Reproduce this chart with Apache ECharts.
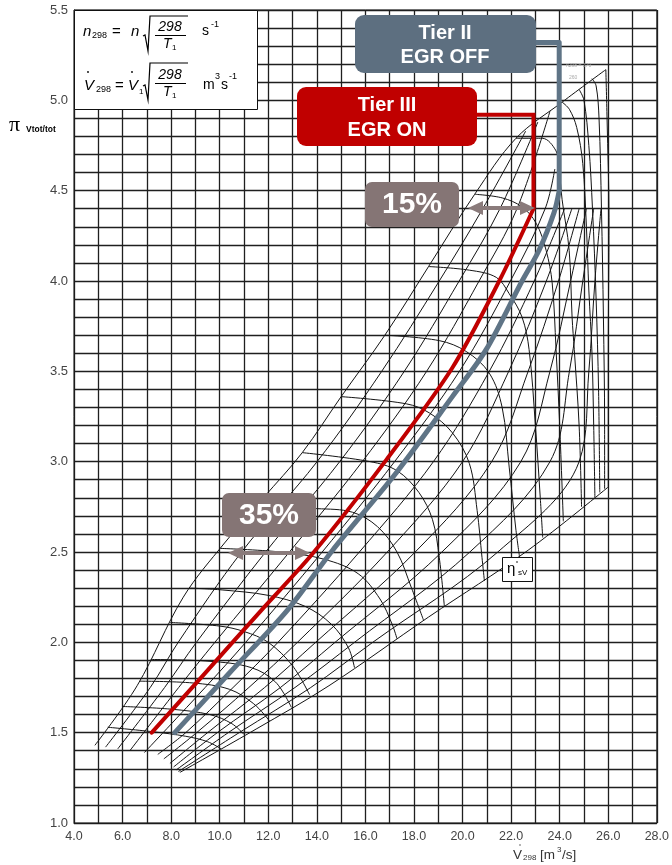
<!DOCTYPE html>
<html>
<head>
<meta charset="utf-8">
<script src="https://cdn.jsdelivr.net/npm/echarts@6/dist/echarts.min.js"></script>
<style>
  html, body { margin: 0; padding: 0; background: #fff; }
  #chart { width: 672px; height: 865px; }
</style>
</head>
<body>
<div id="chart"></div>
<script>
// Axis ticks that carry a printed label
const xLabelValues = [4, 6, 8, 10, 12, 14, 16, 18, 20, 22, 24, 26, 28];
const yLabelValues = [1.0, 1.5, 2.0, 2.5, 3.0, 3.5, 4.0, 4.5, 5.0, 5.5];

// Operating lines  [V298 m3/s, pressure ratio]
const tier3EgrOn = [[7.2,1.5],[9.4,1.83],[11.73,2.18],[13.82,2.49],[16.86,3.01],[19.58,3.52],[21.51,4.0],[22.92,4.4]];
const tier3Leader = [[22.92,4.4],[22.92,4.92],[20.56,4.92]];
const tier2EgrOff = [[8.15,1.5],[10.4,1.83],[12.8,2.18],[14.65,2.51],[17.28,2.94],[19.58,3.36],[20.97,3.62],[22.45,4.0],[23.15,4.17],[23.77,4.38],[23.98,4.5]];
const tier2Leader = [[23.98,4.5],[23.98,5.32],[22.99,5.32]];

// Compressor map: surge line and lower boundary
const surgeLine = [[4.86,1.43],[6.6,1.76],[8.5,2.25],[10.2,2.55],[11.8,2.8],[13.4,3.05],[15.0,3.36],[16.8,3.7],[18.6,4.08],[20.5,4.48],[22.2,4.79],[24.1,4.99],[25.9,5.17]];
const lowerBoundary = [[8.36,1.28],[11.5,1.52],[14.5,1.76],[18.6,2.14],[22.7,2.51],[26.0,2.86]];

// Fan of diagonal lines across the map
const diag1 = [[5.3,1.42],[7.14,1.75],[8.29,2.0],[10.9,2.5],[14.01,3.0],[16.67,3.5],[19.04,4.0],[20.83,4.4],[22.6,4.83]];
const diag2 = [[5.8,1.41],[7.73,1.75],[9.04,2.0],[11.89,2.5],[14.94,3.0],[17.6,3.5],[19.86,4.0],[21.54,4.4],[23.1,4.88]];
const diag3 = [[6.3,1.4],[8.31,1.75],[9.8,2.0],[12.87,2.5],[15.87,3.0],[18.52,3.5],[20.68,4.0],[22.24,4.4],[23.6,4.94]];
const diag4 = [[6.9,1.39],[9.4,1.75],[11.07,2.0],[14.22,2.5],[17.2,3.0],[19.87,3.5],[21.97,4.0],[23.4,4.4],[23.8,4.62]];
const diag5 = [[7.45,1.38],[8.6,1.5],[10.55,1.75],[12.4,2.0],[15.75,2.5],[18.8,3.0],[21.1,3.5],[22.95,4.0],[24.2,4.4]];
const diag6 = [[7.7,1.355],[9.05,1.5],[11.2,1.75],[13.2,2.0],[16.9,2.5],[20.0,3.0],[21.9,3.5],[23.45,4.0],[24.5,4.4]];
const diag7 = [[7.95,1.33],[9.5,1.5],[11.85,1.75],[13.95,2.0],[18.05,2.5],[21.2,3.0],[22.7,3.5],[23.95,4.0],[24.8,4.4]];
const diag8 = [[8.1,1.31],[9.9,1.5],[12.5,1.75],[14.75,2.0],[19.15,2.5],[22.4,3.0],[23.6,3.5],[24.45,4.0],[25.1,4.4]];
const diag9 = [[8.22,1.295],[10.35,1.5],[13.1,1.75],[15.55,2.0],[20.3,2.5],[23.6,3.0],[24.4,3.5],[24.95,4.0],[25.4,4.4]];
const diag10 = [[8.3,1.285],[10.8,1.5],[13.75,1.75],[16.3,2.0],[21.45,2.5],[24.8,3.0],[25.2,3.5],[25.45,4.0],[25.7,4.4]];

// Speed lines n298, from surge to choke
const speed1 = [[5.39,1.53],[7.25,1.505],[8.6,1.48],[9.5,1.45],[10.06,1.41]];
const speed2 = [[5.99,1.645],[8.0,1.63],[9.6,1.6],[10.5,1.55],[11.0,1.49]];
const speed3 = [[6.7,1.785],[8.9,1.775],[10.4,1.74],[11.4,1.66],[12.05,1.565]];
const speed4 = [[7.16,1.905],[9.6,1.895],[11.3,1.86],[12.3,1.78],[12.95,1.64]];
const speed5 = [[7.96,2.11],[10.0,2.09],[11.0,2.06],[12.0,2.0],[13.0,1.87],[13.7,1.71]];
const speed6 = [[8.78,2.3],[10.1,2.29],[12.0,2.26],[13.5,2.2],[14.6,2.1],[15.3,1.97],[15.55,1.86]];
const speed7 = [[10.03,2.52],[12.5,2.5],[14.3,2.46],[15.7,2.38],[16.6,2.24],[17.1,2.1],[17.3,2.02]];
const speed8 = [[11.48,2.75],[14.0,2.74],[15.47,2.72],[16.5,2.64],[17.3,2.5],[17.9,2.3],[18.4,2.12]];
const speed9 = [[13.4,3.05],[16.2,3.0],[17.3,2.95],[18.2,2.83],[18.76,2.68],[19.04,2.47],[19.25,2.2]];
const speed10 = [[15.0,3.36],[17.69,3.32],[18.63,3.27],[19.58,3.16],[20.28,2.99],[20.6,2.73],[20.8,2.47],[20.9,2.34]];
const speed11 = [[16.8,3.7],[19.04,3.67],[20.15,3.61],[21.1,3.49],[21.63,3.3],[21.92,2.97],[22.2,2.62],[22.35,2.47]];
const speed12 = [[18.6,4.08],[20.28,4.06],[21.39,4.02],[21.92,3.93],[22.45,3.8],[22.74,3.62],[23.0,3.2],[23.2,2.8],[23.3,2.58]];
const speed13 = [[20.5,4.48],[21.63,4.46],[22.45,4.41],[23.03,4.32],[23.44,4.17],[23.69,3.99],[23.85,3.62],[24.0,3.2],[24.15,2.67]];
const speed14 = [[22.2,4.79],[23.28,4.79],[23.85,4.72],[23.97,4.63],[24.1,4.45],[24.39,4.17],[24.51,3.8],[24.6,3.62],[24.8,3.2],[24.9,2.75]];
const speed15 = [[24.1,4.99],[24.4,4.95],[24.7,4.85],[24.95,4.65],[25.1,4.3],[25.2,3.95],[25.33,3.6],[25.4,3.2],[25.45,2.8]];
const speed16 = [[24.8,5.06],[25.0,5.0],[25.2,4.75],[25.35,4.4],[25.5,3.9],[25.6,3.4],[25.65,2.83]];
const speed17 = [[25.33,5.12],[25.5,5.08],[25.62,4.9],[25.72,4.4],[25.8,3.8],[25.85,3.2],[25.85,2.85]];
const speed18 = [[25.9,5.17],[25.95,4.9],[26.03,4.35],[26.0,3.6],[26.0,2.86]];

const mapLines = {
  surgeLine, lowerBoundary,
  diag1, diag2, diag3, diag4, diag5, diag6, diag7, diag8, diag9, diag10,
  speed1, speed2, speed3, speed4, speed5, speed6, speed7, speed8, speed9,
  speed10, speed11, speed12, speed13, speed14, speed15, speed16, speed17, speed18
};

const SANS = '"Liberation Sans", Arial, sans-serif';
const chart = echarts.init(document.getElementById('chart'), null, { renderer: 'canvas' });

const isLabelled = (list, v) => list.some(t => Math.abs(t - v) < 1e-6);

const series = Object.keys(mapLines).map(name => ({
  name, type: 'line', data: mapLines[name], symbol: 'none', smooth: 0.35,
  lineStyle: { color: '#141414', width: 1 }, silent: true, z: 3
}));
series.push(
  { name: 'Tier II EGR OFF', type: 'line', data: tier2EgrOff, symbol: 'none', smooth: 0.3,
    lineStyle: { color: '#5f7486', width: 5, cap: 'round' }, z: 5 },
  { name: 'Tier II leader', type: 'line', data: tier2Leader, symbol: 'none',
    lineStyle: { color: '#5f7486', width: 5, join: 'round' }, z: 5 },
  { name: 'Tier III EGR ON', type: 'line', data: tier3EgrOn, symbol: 'none', smooth: 0.3,
    lineStyle: { color: '#c00000', width: 4, cap: 'round' }, z: 6 },
  { name: 'Tier III leader', type: 'line', data: tier3Leader, symbol: 'none',
    lineStyle: { color: '#c00000', width: 4, join: 'miter' }, z: 6 }
);

function txt(x, y, text, font, extra) {
  return Object.assign({ type: 'text', z: 120,
    style: Object.assign({ x, y, text, font, fill: '#000', align: 'left', verticalAlign: 'middle' }, extra || {}) });
}
function box(x, y, w, h, fill, r) {
  return { type: 'rect', z: 110, shape: { x, y, width: w, height: h, r: r }, style: { fill } };
}
function arrow(x1, x2, y, color) {
  return [
    { type: 'line', z: 110, shape: { x1: x1 + 10, y1: y, x2: x2 - 10, y2: y }, style: { stroke: color, lineWidth: 4 } },
    { type: 'polygon', z: 110, shape: { points: [[x1, y], [x1 + 15, y - 7], [x1 + 15, y + 7]] }, style: { fill: color } },
    { type: 'polygon', z: 110, shape: { points: [[x2, y], [x2 - 15, y - 7], [x2 - 15, y + 7]] }, style: { fill: color } }
  ];
}

const boxFont = 'bold 20px ' + SANS;
const pctFont = 'bold 30px ' + SANS;
const taupe = '#857575';

const graphic = [
  // formula panel
  { type: 'rect', z: 100, shape: { x: 74.5, y: 10.5, width: 183, height: 99 }, style: { fill: '#fff', stroke: '#111', lineWidth: 1 } },
  txt(83, 32, 'n', 'italic 15px ' + SANS),
  txt(92, 36, '298', '9px ' + SANS),
  txt(112, 32, '=', '15px ' + SANS),
  txt(131, 32, 'n', 'italic 15px ' + SANS),
  { type: 'polyline', z: 120, shape: { points: [[143, 36], [145, 35], [148, 51], [150, 16], [188, 16]] }, style: { stroke: '#000', lineWidth: 1.2, fill: null } },
  txt(170, 27, '298', 'italic 14px ' + SANS, { align: 'center' }),
  { type: 'line', z: 120, shape: { x1: 155, y1: 35.5, x2: 186, y2: 35.5 }, style: { stroke: '#000', lineWidth: 1 } },
  txt(163, 44, 'T', 'italic 14px ' + SANS),
  txt(172, 48, '1', '8px ' + SANS),
  txt(202, 31, 's', '14px ' + SANS),
  txt(211, 25, '-1', '9px ' + SANS),

  txt(84, 86, 'V', 'italic 15px ' + SANS),
  { type: 'circle', z: 120, shape: { cx: 88, cy: 72, r: 0.9 }, style: { fill: '#000' } },
  txt(96, 90, '298', '9px ' + SANS),
  txt(115, 86, '=', '15px ' + SANS),
  txt(128, 86, 'V', 'italic 15px ' + SANS),
  { type: 'circle', z: 120, shape: { cx: 132, cy: 72, r: 0.9 }, style: { fill: '#000' } },
  txt(139, 92, '1', '8px ' + SANS),
  { type: 'polyline', z: 120, shape: { points: [[143, 86], [145, 85], [148, 100], [150, 63], [188, 63]] }, style: { stroke: '#000', lineWidth: 1.2, fill: null } },
  txt(170, 75, '298', 'italic 14px ' + SANS, { align: 'center' }),
  { type: 'line', z: 120, shape: { x1: 155, y1: 83.5, x2: 186, y2: 83.5 }, style: { stroke: '#000', lineWidth: 1 } },
  txt(163, 92, 'T', 'italic 14px ' + SANS),
  txt(172, 96, '1', '8px ' + SANS),
  txt(203, 85, 'm', '14px ' + SANS),
  txt(215, 77, '3', '9px ' + SANS),
  txt(221, 85, 's', '14px ' + SANS),
  txt(229, 77, '-1', '9px ' + SANS),

  // axis names
  txt(9, 125, 'π', '22px "Liberation Serif", "DejaVu Serif", serif'),
  txt(26, 130, 'Vtot/tot', 'bold 8.5px ' + SANS),
  txt(513, 855, 'V', '13.5px ' + SANS, { fill: '#333' }),
  { type: 'circle', z: 120, shape: { cx: 520, cy: 845, r: 0.8 }, style: { fill: '#555' } },
  txt(523, 858, '298', '8px ' + SANS, { fill: '#333' }),
  txt(540, 855, '[m', '13.5px ' + SANS, { fill: '#333' }),
  txt(557, 850, '3', '8px ' + SANS, { fill: '#333' }),
  txt(562, 855, '/s]', '13.5px ' + SANS, { fill: '#333' }),

  // efficiency key
  { type: 'rect', z: 100, shape: { x: 502.5, y: 557.5, width: 30, height: 24 }, style: { fill: '#fff', stroke: '#111', lineWidth: 1 } },
  txt(507, 569, 'η', '15px ' + SANS),
  { type: 'circle', z: 120, shape: { cx: 517, cy: 562, r: 0.8 }, style: { fill: '#000' } },
  txt(518, 573, 'sV', '8px ' + SANS),

  // speed labels
  txt(566, 66, 'n298 = 270', '5px ' + SANS, { fill: '#aaa' }),
  txt(569, 78, '260', '5px ' + SANS, { fill: '#aaa' }),

  // operating-line callouts
  box(355, 15, 181, 58, '#5d6f80', 9),
  txt(445, 33, 'Tier II', boxFont, { fill: '#fff', align: 'center' }),
  txt(445, 57, 'EGR OFF', boxFont, { fill: '#fff', align: 'center' }),
  box(297, 87, 180, 59, '#c00000', 9),
  txt(387, 105, 'Tier III', boxFont, { fill: '#fff', align: 'center' }),
  txt(387, 130, 'EGR ON', boxFont, { fill: '#fff', align: 'center' }),
  box(365, 182, 94, 45, taupe, 7),
  txt(412, 205, '15%', pctFont, { fill: '#fff', align: 'center' }),
  box(222, 493, 94, 44, taupe, 7),
  txt(269, 516, '35%', pctFont, { fill: '#fff', align: 'center' })
].concat(arrow(468, 535, 208, '#8a7b7b'), arrow(228, 310, 553, '#8a7b7b'));

chart.setOption({
  animation: false,
  backgroundColor: '#fff',
  grid: { left: 74, right: 14, top: 10, bottom: 42, show: true, borderColor: '#1b1b1b', borderWidth: 1 },
  xAxis: {
    type: 'value', min: 4, max: 28, interval: 1,
    axisLine: { show: true, lineStyle: { color: '#1b1b1b', width: 1 } },
    axisTick: { show: false },
    splitLine: { show: true, lineStyle: { color: '#1f1f1f', width: 1.3 } },
    axisLabel: { color: '#444', fontSize: 12.5, fontFamily: SANS, margin: 7,
      formatter: v => isLabelled(xLabelValues, v) ? v.toFixed(1) : '' }
  },
  yAxis: {
    type: 'value', min: 1, max: 5.5, interval: 0.1,
    axisLine: { show: true, lineStyle: { color: '#1b1b1b', width: 1 } },
    axisTick: { show: false },
    splitLine: { show: true, lineStyle: { color: '#1f1f1f', width: 1.3 } },
    axisLabel: { color: '#444', fontSize: 13, fontFamily: SANS, margin: 6,
      formatter: v => isLabelled(yLabelValues, v) ? v.toFixed(1) : '' }
  },
  series,
  graphic
});
</script>
</body>
</html>
